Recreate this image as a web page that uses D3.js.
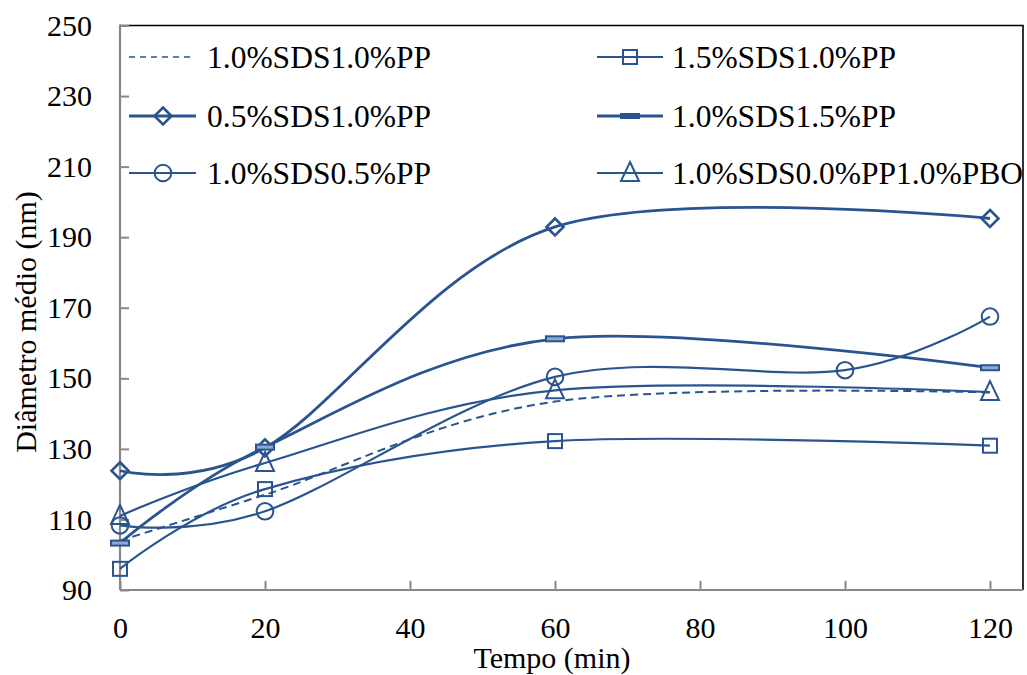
<!DOCTYPE html>
<html>
<head>
<meta charset="utf-8">
<script src="https://cdn.jsdelivr.net/npm/d3@7"></script>
<style>
  html, body { margin: 0; padding: 0; background: #fff; }
  svg { display: block; }
  text { font-family: "Liberation Serif", "Times New Roman", serif; fill: #000; }
</style>
</head>
<body>
<svg id="chart" width="1027" height="675"></svg>
<script>
// ---- data ----
const seriesNames = ["1.0%SDS1.0%PP", "1.5%SDS1.0%PP", "0.5%SDS1.0%PP", "1.0%SDS1.5%PP", "1.0%SDS0.5%PP", "1.0%SDS0.0%PP1.0%PBO"];
const markerTypes = ["none", "square", "diamond", "bar", "circle", "triangle"];
const times_A = [0, 20, 60, 120];
const times_B = [0, 20, 60, 100, 120];
const vals_10SDS10PP = [104, 117, 143.4, 146];
const vals_15SDS10PP = [96, 118.6, 132.2, 130.9];
const vals_05SDS10PP = [123.8, 130.3, 192.9, 195.3];
const vals_10SDS15PP = [103.3, 130.5, 161.2, 153];
const vals_10SDS05PP = [108.3, 112.3, 150.4, 152.3, 167.5];
const vals_10SDS00PP10PBO = [111, 126, 146.6, 146.1];
const xTicks = [0, 20, 40, 60, 80, 100, 120];
const yTicks = [90, 110, 130, 150, 170, 190, 210, 230, 250];

const seriesData = [
  {name: seriesNames[0], marker: markerTypes[0], x: times_A, y: vals_10SDS10PP, dashed: true},
  {name: seriesNames[1], marker: markerTypes[1], x: times_A, y: vals_15SDS10PP},
  {name: seriesNames[2], marker: markerTypes[2], x: times_A, y: vals_05SDS10PP, bold: true},
  {name: seriesNames[3], marker: markerTypes[3], x: times_A, y: vals_10SDS15PP, bold: true},
  {name: seriesNames[4], marker: markerTypes[4], x: times_B, y: vals_10SDS05PP},
  {name: seriesNames[5], marker: markerTypes[5], x: times_A, y: vals_10SDS00PP10PBO}
];

// ---- layout ----
const color = "#2a5490";
const svg = d3.select("#chart");
const pLeft = 120, pRight = 1023, pTop = 25.5, pBottom = 590;
const x = d3.scaleLinear().domain([0, 120]).range([pLeft, 990]);
const y = d3.scaleLinear().domain([90, 250]).range([pBottom, pTop]);

// frame: top & right black
svg.append("path")
  .attr("d", `M${pLeft},${pTop}H${pRight}V${pBottom}`)
  .attr("fill", "none").attr("stroke", "#000").attr("stroke-width", 1.6);

// axes
const yAxis = d3.axisLeft(y).tickValues(yTicks).tickSize(-9).tickPadding(28).tickFormat(d3.format("d"));
const xAxis = d3.axisBottom(x).tickValues(xTicks).tickSize(-9).tickPadding(27).tickFormat(d3.format("d"));

const gy = svg.append("g").attr("transform", `translate(${pLeft},0)`).call(yAxis);
gy.select(".domain").remove();
gy.selectAll(".tick line").attr("stroke", "#888").attr("stroke-width", 2);
gy.selectAll(".tick text").style("font-size", "30px").style("font-family", "Liberation Serif");

const gx = svg.append("g").attr("transform", `translate(0,${pBottom})`).call(xAxis);
gx.select(".domain").remove();
gx.selectAll(".tick line").attr("stroke", "#888").attr("stroke-width", 2);
gx.selectAll(".tick text").style("font-size", "30px").style("font-family", "Liberation Serif");

// axis lines
svg.append("line").attr("x1", pLeft).attr("x2", pLeft).attr("y1", pTop - 1).attr("y2", pBottom)
  .attr("stroke", "#888").attr("stroke-width", 2.2);
svg.append("line").attr("x1", pLeft).attr("x2", pRight).attr("y1", pBottom).attr("y2", pBottom)
  .attr("stroke", "#888").attr("stroke-width", 2.2);

// titles
svg.append("text").attr("x", 552).attr("y", 668).attr("text-anchor", "middle")
  .style("font-size", "30px").text("Tempo (min)");
svg.append("text").attr("transform", "translate(36,322) rotate(-90)").attr("text-anchor", "middle")
  .style("font-size", "30px").text("Diâmetro médio (nm)");

// lines
const line = d3.line().curve(d3.curveCardinal.tension(0)).x(d => x(d[0])).y(d => y(d[1]));
const plot = svg.append("g");
seriesData.forEach(s => {
  const pts = s.x.map((t, i) => [t, s.y[i]]);
  plot.append("path").datum(pts).attr("d", line)
    .attr("fill", "none").attr("stroke", color)
    .attr("stroke-width", s.dashed ? 2 : (s.bold ? 2.8 : 2.2))
    .attr("stroke-dasharray", s.dashed ? "8,5" : null);
});

function drawMarker(g, type, cx, cy) {
  const st = {fill: "none", stroke: color, "stroke-width": 2};
  let el;
  if (type === "square") {
    el = g.append("rect").attr("x", cx - 7).attr("y", cy - 7).attr("width", 14).attr("height", 14);
  } else if (type === "diamond") {
    el = g.append("path").attr("d", `M${cx},${cy - 8.5}L${cx + 8.5},${cy}L${cx},${cy + 8.5}L${cx - 8.5},${cy}Z`);
    st["stroke-width"] = 2.6;
  } else if (type === "circle") {
    el = g.append("circle").attr("cx", cx).attr("cy", cy).attr("r", 8.3);
  } else if (type === "triangle") {
    el = g.append("path").attr("d", `M${cx},${cy - 11}L${cx + 9},${cy + 8}L${cx - 9},${cy + 8}Z`);
  } else if (type === "bar") {
    el = g.append("rect").attr("x", cx - 9).attr("y", cy - 2.5).attr("width", 18).attr("height", 5);
    st.fill = "#8ea8cf";
  } else return;
  Object.entries(st).forEach(([k, v]) => el.attr(k, v));
  el.attr("stroke-linejoin", "miter");
}

seriesData.forEach(s => {
  s.x.forEach((t, i) => drawMarker(plot, s.marker, x(t), y(s.y[i])));
});

// legend
const legCols = [{lx1: 129, lx2: 196, mx: 163, tx: 207}, {lx1: 597, lx2: 663, mx: 630, tx: 672}];
const legRows = [57, 116, 173];
const legOrder = [0, 2, 4, 1, 3, 5]; // column-major
const leg = svg.append("g");
legOrder.forEach((si, k) => {
  const col = legCols[Math.floor(k / 3)];
  const ry = legRows[k % 3];
  const s = seriesData[si];
  leg.append("line").attr("x1", col.lx1).attr("x2", s.dashed ? 191 : col.lx2).attr("y1", ry).attr("y2", ry)
    .attr("stroke", color).attr("stroke-width", s.dashed ? 1.6 : (s.bold ? 2.8 : 2.2))
    .attr("stroke-dasharray", s.dashed ? "6,5" : null);
  if (s.marker === "bar") {
    leg.append("rect").attr("x", col.mx - 10).attr("y", ry - 3).attr("width", 20).attr("height", 6).attr("fill", color);
  } else {
    drawMarker(leg, s.marker, col.mx, ry);
  }
  leg.append("text").attr("x", col.tx).attr("y", ry + 11).style("font-size", "31.5px").text(s.name);
});
</script>
</body>
</html>
